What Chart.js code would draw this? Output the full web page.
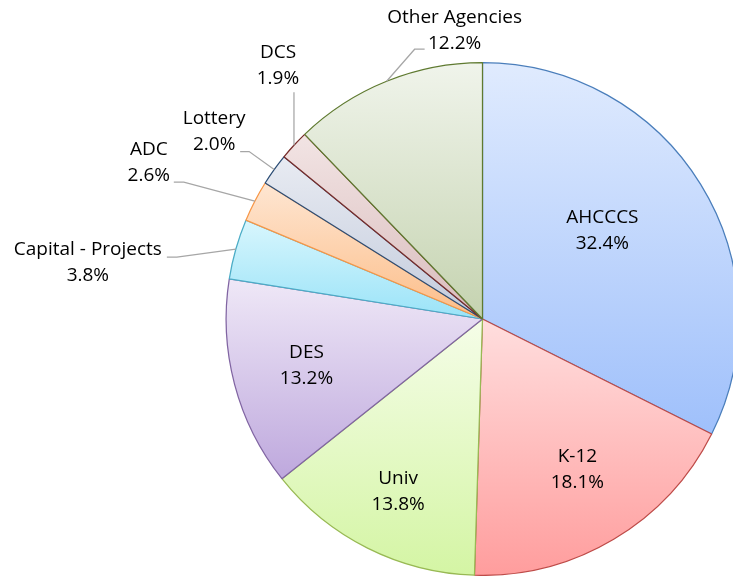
<!DOCTYPE html>
<html>
<head>
<meta charset="utf-8">
<script src="https://cdn.jsdelivr.net/npm/chart.js@4/dist/chart.umd.min.js"></script>
<style>
    html, body { margin: 0; padding: 0; overflow: hidden; background: #fff; }
    canvas { display: block; }
</style>
</head>
<body>
<canvas id="pieChart" width="760" height="576"></canvas>
<script>
// data
var categories = ['AHCCCS', 'K-12', 'Univ', 'DES', 'Capital - Projects', 'ADC', 'Lottery', 'DCS', 'Other Agencies'];
var shares = [32.4, 18.1, 13.8, 13.2, 3.8, 2.6, 2.0, 1.9, 12.2];
var percentLabels = shares.map(function (v) { return v.toFixed(1) + '%'; });

// styles
var borderColors = ['#4a7ebb', '#be4b48', '#98b954', '#8064a2', '#4bacc6', '#f79646', '#2c4d75', '#772c2a', '#5f7a30'];
var gradTop = ['#e0ebfe', '#ffdede', '#f5fde8', '#efe8f7', '#d8f6fd', '#fee6d2', '#e8ebf2', '#f2e4e4', '#f0f4eb'];
var gradBottom = ['#9fc0fb', '#ff9d9d', '#d4f5a4', '#bea8dd', '#9ae3f8', '#fcbd88', '#c3cbdc', '#d9bcbc', '#c5d3b0'];

// inside labels: [fraction of radius, angle shift in degrees] from the mid angle
var insideLabels = { 0: [0.58, -4.6], 1: [0.695, -1.4], 2: [0.75, -0.6], 3: [0.71, 0] };
// outside labels: offsets from the slice edge point (leader elbow, leader end, text centre)
var outsideLabels = {
    4: { elbow: [-59, 8], end: [-69, 8], text: [-148, 14] },
    5: { elbow: [-71, -19], end: [-81, -19], text: [-106, -39] },
    6: { elbow: [-25, -18], end: [-34, -18], text: [-60, -38] },
    7: { elbow: [0, -53], end: [0, -53], text: [-16, -80] },
    8: { elbow: [28, -32], end: [38, -32], text: [68, -51] }
};

var FONT = '19px "Open Sans", sans-serif';
var LINE_GAP = 26;

function arcYRange(a) {
    var r = a.outerRadius;
    var ys = [a.y, a.y + Math.sin(a.startAngle) * r, a.y + Math.sin(a.endAngle) * r];
    [-Math.PI / 2, Math.PI / 2, 3 * Math.PI / 2].forEach(function (t) {
        if (t >= a.startAngle && t <= a.endAngle) ys.push(a.y + Math.sin(t) * r);
    });
    return [Math.min.apply(null, ys), Math.max.apply(null, ys)];
}

// gradient fill per slice, top to bottom of its own box
var sliceGradients = {
    id: 'sliceGradients',
    beforeDatasetsDraw: function (chart) {
        var ctx = chart.ctx;
        chart.getDatasetMeta(0).data.forEach(function (arc, i) {
            var p = arc.getProps(['x', 'y', 'startAngle', 'endAngle', 'outerRadius'], true);
            var yr = arcYRange(p);
            var g = ctx.createLinearGradient(0, yr[0], 0, yr[1]);
            g.addColorStop(0, gradTop[i]);
            g.addColorStop(1, gradBottom[i]);
            arc.options = Object.assign({}, arc.options, { backgroundColor: g });
        });
    }
};

function drawTwoLines(ctx, i, cx, cy) {
    ctx.fillText(categories[i], cx, cy - LINE_GAP / 2);
    ctx.fillText(percentLabels[i], cx, cy + LINE_GAP / 2);
}

var sliceLabels = {
    id: 'sliceLabels',
    afterDatasetsDraw: function (chart) {
        var ctx = chart.ctx;
        ctx.save();
        ctx.font = FONT;
        ctx.fillStyle = '#000';
        ctx.textAlign = 'center';
        ctx.textBaseline = 'middle';
        chart.getDatasetMeta(0).data.forEach(function (arc, i) {
            var p = arc.getProps(['x', 'y', 'startAngle', 'endAngle', 'outerRadius'], true);
            var mid = (p.startAngle + p.endAngle) / 2;
            var inside = insideLabels[i];
            if (inside) {
                var d = p.outerRadius * inside[0];
                var a = mid + inside[1] * Math.PI / 180;
                drawTwoLines(ctx, i, p.x + Math.cos(a) * d, p.y + Math.sin(a) * d);
                return;
            }
            var o = outsideLabels[i];
            if (!o) return;
            var ex = p.x + Math.cos(mid) * p.outerRadius;
            var ey = p.y + Math.sin(mid) * p.outerRadius;
            ctx.beginPath();
            ctx.strokeStyle = '#a6a6a6';
            ctx.lineWidth = 1.25;
            ctx.moveTo(ex, ey);
            ctx.lineTo(ex + o.elbow[0], ey + o.elbow[1]);
            ctx.lineTo(ex + o.end[0], ey + o.end[1]);
            ctx.stroke();
            drawTwoLines(ctx, i, ex + o.text[0], ey + o.text[1]);
        });
        ctx.restore();
    }
};

var ctx = document.getElementById('pieChart').getContext('2d');
var pieChart = new Chart(ctx, {
    type: 'pie',
    data: {
        labels: categories,
        datasets: [{
            data: shares,
            backgroundColor: gradBottom,
            borderColor: borderColors,
            borderWidth: 1.25
        }]
    },
    options: {
        responsive: false,
        animation: false,
        layout: {
            padding: { top: 62, bottom: 0, left: 225, right: 20 }
        },
        plugins: {
            legend: { display: false },
            tooltip: { enabled: false }
        }
    },
    plugins: [sliceGradients, sliceLabels]
});
</script>
</body>
</html>
